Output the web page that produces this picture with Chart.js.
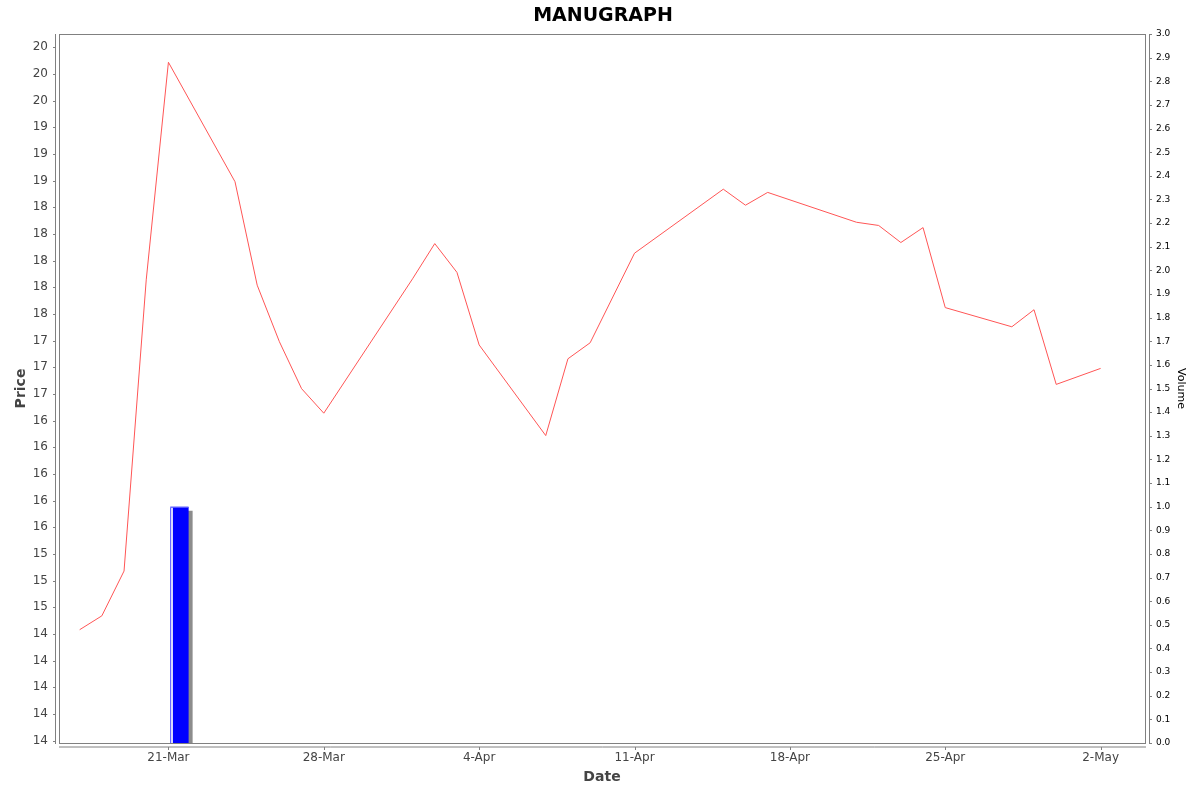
<!DOCTYPE html>
<html>
<head>
<meta charset="utf-8">
<title>MANUGRAPH</title>
<script src="https://cdn.jsdelivr.net/npm/chart.js@4.4.1/dist/chart.umd.min.js"></script>
<style>
    html, body { margin: 0; padding: 0; background: #fff; }
    #wrap { width: 1200px; height: 792px; position: relative; }
</style>
</head>
<body>
<div id="wrap"><canvas id="manugraph-chart"></canvas></div>
<script>
// trading days (2025) and closing price
const dates = [
    '2025-03-17', '2025-03-18', '2025-03-19', '2025-03-20', '2025-03-21',
    '2025-03-24', '2025-03-25', '2025-03-26', '2025-03-27', '2025-03-28',
    '2025-04-01', '2025-04-02', '2025-04-03', '2025-04-04',
    '2025-04-07', '2025-04-08', '2025-04-09', '2025-04-11',
    '2025-04-15', '2025-04-16', '2025-04-17',
    '2025-04-21', '2025-04-22', '2025-04-23', '2025-04-24', '2025-04-25',
    '2025-04-28', '2025-04-29', '2025-04-30', '2025-05-02'
];
const prices = [
    14.54, 14.67, 15.09, 17.82, 19.86,
    18.74, 17.77, 17.24, 16.80, 16.57,
    17.83, 18.16, 17.89, 17.21,
    16.36, 17.08, 17.23, 18.07,
    18.67, 18.52, 18.64,
    18.36, 18.33, 18.17, 18.31, 17.56,
    17.38, 17.54, 16.84, 16.99
];
const volumes = [
    0, 0, 0, 0, 1.0,
    0, 0, 0, 0, 0,
    0, 0, 0, 0,
    0, 0, 0, 0,
    0, 0, 0,
    0, 0, 0, 0, 0,
    0, 0, 0, 0
];

// axis ticks
const xTickDates = ['2025-03-21', '2025-03-28', '2025-04-04', '2025-04-11', '2025-04-18', '2025-04-25', '2025-05-02'];
const priceTicks = [
    13.5, 13.75, 14, 14.25, 14.5, 14.75, 15, 15.25, 15.5, 15.75, 16, 16.25, 16.5, 16.75,
    17, 17.25, 17.5, 17.75, 18, 18.25, 18.5, 18.75, 19, 19.25, 19.5, 19.75, 20
];
const priceTickLabels = [
    '14', '14', '14', '14', '14', '15', '15', '15', '16', '16', '16', '16', '16', '17',
    '17', '17', '18', '18', '18', '18', '18', '19', '19', '19', '20', '20', '20'
];
const monthNames = ['Jan', 'Feb', 'Mar', 'Apr', 'May', 'Jun', 'Jul', 'Aug', 'Sep', 'Oct', 'Nov', 'Dec'];

const DAY = 86400000;
function toDay(s) {
    const p = s.split('-').map(Number);
    return Date.UTC(p[0], p[1] - 1, p[2]) / DAY;
}
function dayLabel(d) {
    const dt = new Date(Math.round(d) * DAY);
    return dt.getUTCDate() + '-' + monthNames[dt.getUTCMonth()];
}

const FONT = '"DejaVu Sans", "Liberation Sans", sans-serif';
Chart.defaults.font.family = FONT;

// axis range
const xMin = toDay('2025-03-16') + 0.07;
const xMax = toDay('2025-05-04');

// drop shadow + highlight stripe on the volume bars
const barStyle = {
    id: 'barStyle',
    beforeDatasetDraw(chart, args) {
        if (args.meta.type !== 'bar') return;
        const ctx = chart.ctx;
        ctx.save();
        ctx.shadowColor = '#8c8c8c';
        ctx.shadowOffsetX = 4;
        ctx.shadowOffsetY = 4;
        ctx.shadowBlur = 0;
    },
    afterDatasetDraw(chart, args) {
        if (args.meta.type !== 'bar') return;
        const ctx = chart.ctx;
        ctx.restore();
        ctx.save();
        args.meta.data.forEach(el => {
            const p = el.getProps(['x', 'y', 'width', 'base'], true);
            if (p.base - p.y < 1) return;
            const left = Math.round(p.x - p.width / 2);
            ctx.fillStyle = 'rgba(255,255,255,0.85)';
            ctx.fillRect(left + 1, p.y + 1, 2, p.base - p.y - 1);
            ctx.fillStyle = 'rgba(140,140,255,0.9)';
            ctx.fillRect(left, p.y, p.width, 1);
        });
        ctx.restore();
    }
};

// plot outline, offset axis lines, titles
const frame = {
    id: 'frame',
    afterDraw(chart) {
        const ctx = chart.ctx;
        const a = chart.chartArea;
        const sx = chart.scales.x, sy = chart.scales.y, sv = chart.scales.yVol;
        ctx.save();
        ctx.strokeStyle = '#808080';
        ctx.lineWidth = 1;
        ctx.strokeRect(a.left + 0.5, a.top + 0.5, a.width, a.height);

        ctx.beginPath();
        // left axis
        ctx.moveTo(a.left - 3.5, a.top);
        ctx.lineTo(a.left - 3.5, a.bottom + 1);
        sy.ticks.forEach(t => {
            const py = Math.round(sy.getPixelForValue(t.value)) + 0.5;
            ctx.moveTo(a.left - 6, py);
            ctx.lineTo(a.left - 3.5, py);
        });
        // right axis
        ctx.moveTo(a.right + 4.5, a.top);
        ctx.lineTo(a.right + 4.5, a.bottom + 1);
        sv.ticks.forEach(t => {
            const py = Math.round(sv.getPixelForValue(t.value)) + 0.5;
            ctx.moveTo(a.right + 4.5, py);
            ctx.lineTo(a.right + 7, py);
        });
        // bottom axis
        ctx.moveTo(a.left, a.bottom + 4);
        ctx.lineTo(a.right + 1, a.bottom + 4);
        sx.ticks.forEach(t => {
            const px = Math.round(sx.getPixelForValue(t.value)) + 0.5;
            ctx.moveTo(px, a.bottom + 4);
            ctx.lineTo(px, a.bottom + 7);
        });
        ctx.stroke();

        // chart title
        ctx.fillStyle = '#000';
        ctx.textAlign = 'center';
        ctx.textBaseline = 'alphabetic';
        ctx.font = 'bold 19px ' + FONT;
        ctx.fillText('MANUGRAPH', 603, 21);

        // axis titles
        const midY = (a.top + a.bottom) / 2;
        ctx.fillStyle = '#444';
        ctx.font = 'bold 14px ' + FONT;
        ctx.fillText('Date', (a.left + a.right) / 2, 781);

        ctx.save();
        ctx.translate(24.5, midY);
        ctx.rotate(-Math.PI / 2);
        ctx.fillText('Price', 0, 0);
        ctx.restore();

        ctx.save();
        ctx.fillStyle = '#000';
        ctx.font = '11px ' + FONT;
        ctx.translate(1177.5, midY);
        ctx.rotate(Math.PI / 2);
        ctx.fillText('Volume', 0, 0);
        ctx.restore();

        ctx.restore();
    }
};

const ctx = document.getElementById('manugraph-chart').getContext('2d');

new Chart(ctx, {
    data: {
        datasets: [{
            type: 'line',
            label: 'Price',
            data: dates.map((d, i) => ({ x: toDay(d), y: prices[i] })),
            xAxisID: 'x',
            yAxisID: 'y',
            borderColor: '#FF5555',
            borderWidth: 1,
            pointRadius: 0,
            tension: 0,
            fill: false,
            order: 1
        }, {
            type: 'bar',
            label: 'Volume',
            // a daily bar covers the whole day, so it sits on the day's midpoint
            data: dates.map((d, i) => ({ x: toDay(d) + 0.5, y: volumes[i] })),
            xAxisID: 'x',
            yAxisID: 'yVol',
            backgroundColor: '#0000FF',
            borderWidth: 0,
            categoryPercentage: 1,
            barPercentage: 0.82,
            order: 2
        }]
    },
    options: {
        responsive: true,
        maintainAspectRatio: false,
        animation: false,
        layout: { padding: { top: 34, left: 0, right: 0, bottom: 0 } },
        plugins: {
            legend: { display: false },
            title: { display: false },
            tooltip: { enabled: false }
        },
        scales: {
            x: {
                type: 'linear',
                position: 'bottom',
                offset: false,
                min: xMin,
                max: xMax,
                grid: { display: false, drawTicks: false, offset: false },
                border: { display: false },
                ticks: {
                    autoSkip: false,
                    maxRotation: 0,
                    padding: 8,
                    color: '#444',
                    font: { size: 12 },
                    callback: v => dayLabel(v)
                },
                afterBuildTicks: s => { s.ticks = xTickDates.map(d => ({ value: toDay(d) })); },
                afterFit: s => { s.height = 49; }
            },
            y: {
                type: 'linear',
                position: 'left',
                min: 13.478,
                max: 20.125,
                grid: { display: false, drawTicks: false },
                border: { display: false },
                ticks: {
                    autoSkip: false,
                    padding: 11,
                    color: '#444',
                    font: { size: 12 },
                    callback: (v, i) => priceTickLabels[i]
                },
                afterBuildTicks: s => { s.ticks = priceTicks.map(v => ({ value: v })); },
                afterFit: s => { s.width = 59; }
            },
            yVol: {
                type: 'linear',
                position: 'right',
                min: 0,
                max: 3,
                grid: { display: false, drawTicks: false },
                border: { display: false },
                ticks: {
                    autoSkip: false,
                    stepSize: 0.1,
                    padding: 11,
                    color: '#000',
                    font: { size: 9 },
                    callback: v => v.toFixed(1)
                },
                afterFit: s => { s.width = 55; }
            }
        }
    },
    plugins: [barStyle, frame]
});
</script>
</body>
</html>
